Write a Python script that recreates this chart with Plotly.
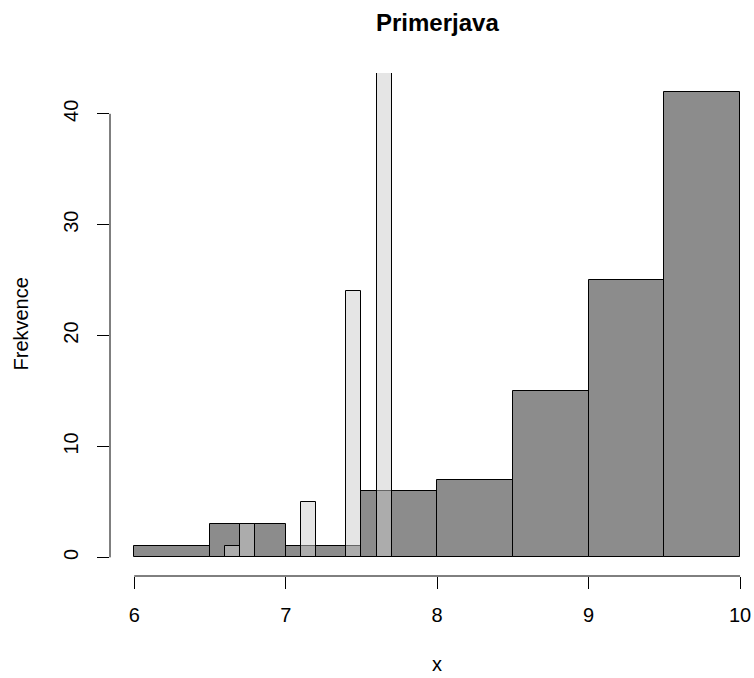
import plotly.graph_objects as go

# Data
dark_edges = [6.0, 6.5, 7.0, 7.5, 8.0, 8.5, 9.0, 9.5, 10.0]
dark_counts = [1, 3, 1, 6, 7, 15, 25, 42]
light_edges = [6.6, 6.7, 6.8, 6.9, 7.0, 7.1, 7.2, 7.3, 7.4, 7.5, 7.6, 7.7]
light_counts = [1, 3, 0, 0, 0, 5, 0, 0, 24, 0, 60]
x_ticks = [6, 7, 8, 9, 10]
y_ticks = [0, 10, 20, 30, 40]

title_text = "Primerjava"
x_title = "x"
y_title = "Frekvence"

FONT = "Liberation Sans, Arial, Helvetica, sans-serif"


def centers(edges):
    return [(a + b) / 2 for a, b in zip(edges[:-1], edges[1:])]


def widths(edges):
    return [b - a for a, b in zip(edges[:-1], edges[1:])]


fig = go.Figure()
fig.add_trace(go.Bar(
    x=centers(dark_edges), y=dark_counts, width=widths(dark_edges),
    marker=dict(color="rgba(26,26,26,0.5)", line=dict(color="black", width=1)),
    showlegend=False, hoverinfo="x+y",
))
fig.add_trace(go.Bar(
    x=centers(light_edges), y=light_counts, width=widths(light_edges),
    marker=dict(color="rgba(204,204,204,0.5)", line=dict(color="black", width=1)),
    showlegend=False, hoverinfo="x+y",
))

ymax = max(dark_counts)
ypad = 0.04 * ymax
xpad = 0.04 * (dark_edges[-1] - dark_edges[0])

fig.update_layout(
    width=754, height=678,
    margin=dict(l=110, r=0, t=73, b=102),
    paper_bgcolor="white", plot_bgcolor="white",
    barmode="overlay", bargap=0,
    font=dict(family=FONT, size=20, color="black"),
    xaxis=dict(
        range=[dark_edges[0] - xpad, 10.092],
        tickvals=x_ticks, ticktext=[str(t) for t in x_ticks],
        ticks="outside", ticklen=12, tickwidth=1, tickcolor="black",
        showline=False, showgrid=False, zeroline=False,
        tickfont=dict(size=20, color="black", family=FONT),
        ticklabelstandoff=9,
    ),
    yaxis=dict(
        range=[-ypad, ymax + ypad],
        tickvals=y_ticks, ticktext=[str(t) for t in y_ticks],
        ticks="outside", ticklen=12, tickwidth=1, tickcolor="black",
        showline=False, showgrid=False, zeroline=False,
        tickangle=-90,
        tickfont=dict(size=20, color="black", family=FONT),
        ticklabelstandoff=11,
    ),
    shapes=[
        dict(type="line", xref="x", yref="paper", x0=x_ticks[0], x1=x_ticks[-1], y0=0, y1=0,
             line=dict(color="black", width=1)),
        dict(type="line", xref="paper", yref="y", x0=0, x1=0, y0=y_ticks[0], y1=y_ticks[-1],
             line=dict(color="black", width=1)),
    ],
    annotations=[
        dict(text="<b>" + title_text + "</b>", xref="x", yref="paper",
             x=(dark_edges[0] + dark_edges[-1]) / 2, y=1, yshift=51,
             showarrow=False, font=dict(size=24, color="black", family=FONT),
             xanchor="center", yanchor="middle"),
        dict(text=x_title, xref="x", yref="paper",
             x=(dark_edges[0] + dark_edges[-1]) / 2, y=0, yshift=-88,
             showarrow=False, font=dict(size=20, color="black", family=FONT),
             xanchor="center", yanchor="middle"),
        dict(text=y_title, xref="paper", yref="paper", x=0, y=0.5, xshift=-90,
             textangle=-90, showarrow=False,
             font=dict(size=20, color="black", family=FONT),
             xanchor="center", yanchor="middle"),
    ],
)

fig.write_html(
    "out.html",
    config={"displayModeBar": False},
    post_script="document.body.style.margin='0';document.body.style.padding='0';",
)
